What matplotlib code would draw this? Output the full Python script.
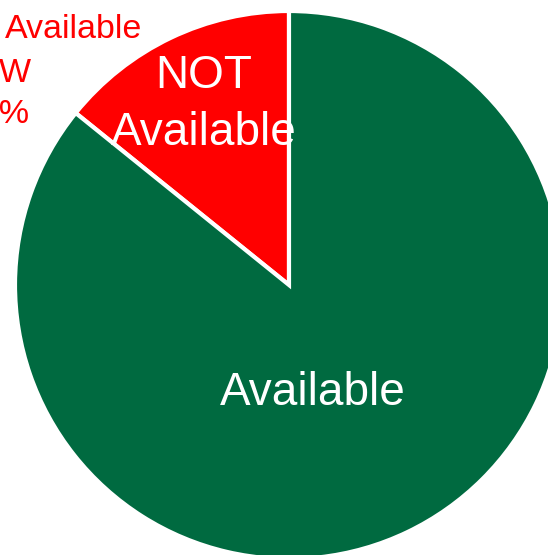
import matplotlib
matplotlib.use('Agg')
import matplotlib.pyplot as plt

# slice data (red first, counterclockwise from 12 o'clock)
slice_names = ['NOT\nAvailable', 'Available']
slice_values = [14.2, 85.8]
slice_colors = ['#FF0000', '#006A40']

# outside label for the red slice (mostly cut off by the image edge)
outside_lines = ['Available', '1,280 MW', '14%']

W, H = 548, 555
fig = plt.figure(figsize=(W / 100, H / 100), dpi=100)
ax = fig.add_axes([0, 0, 1, 1])

cx, cy, r = 289, H - 285, 274
wedges, texts = ax.pie(slice_values, colors=slice_colors, startangle=90,
                       counterclock=True, center=(cx, cy), radius=r,
                       wedgeprops=dict(edgecolor='white', linewidth=3))
ax.set_aspect('auto')
ax.set_xlim(0, W)
ax.set_ylim(0, H)
ax.axis('off')

font = 'Liberation Sans'

# labels inside the slices (one text per line, baselines from the picture)
red_lines = slice_names[0].split('\n')
red_base = [88, 145]
for txt, yb in zip(red_lines, red_base):
    ax.text(204, H - yb, txt, color='white', fontsize=33, family=font,
            ha='center', va='baseline')
ax.text(313, H - 405, slice_names[1], color='white', fontsize=33,
        family=font, ha='center', va='baseline')

# red outside label, right edges and baselines
line_right = [142, 31, 30]
line_base = [38, 82, 123]
for txt, xr, yb in zip(outside_lines, line_right, line_base):
    ax.text(xr, H - yb, txt, color='#FF0000', fontsize=24.5, family=font,
            ha='right', va='baseline')

fig.savefig('out.png', dpi=100)
